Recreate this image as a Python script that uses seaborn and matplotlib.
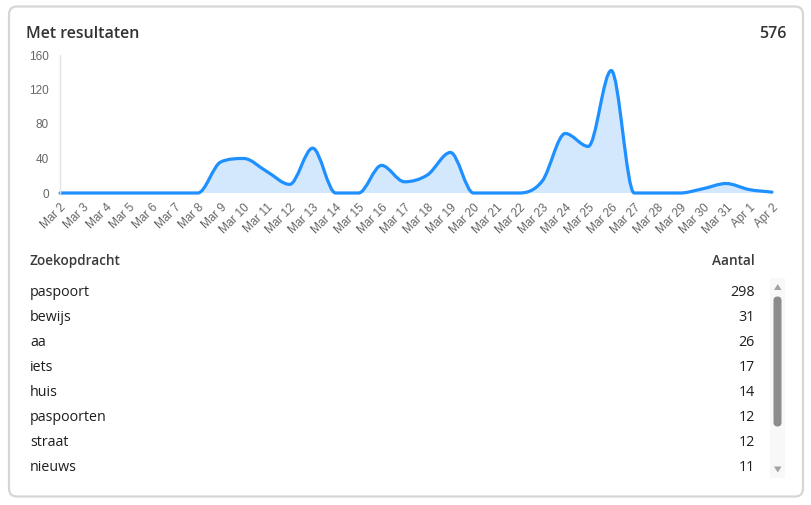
import numpy as np
import matplotlib
matplotlib.use("Agg")
import matplotlib.pyplot as plt
from matplotlib.path import Path
from matplotlib.patches import PathPatch, FancyBboxPatch, Polygon, Rectangle
import seaborn as sns

# ---------------- data ----------------
dates = ["Mar 2", "Mar 3", "Mar 4", "Mar 5", "Mar 6", "Mar 7", "Mar 8", "Mar 9",
         "Mar 10", "Mar 11", "Mar 12", "Mar 13", "Mar 14", "Mar 15", "Mar 16",
         "Mar 17", "Mar 18", "Mar 19", "Mar 20", "Mar 21", "Mar 22", "Mar 23",
         "Mar 24", "Mar 25", "Mar 26", "Mar 27", "Mar 28", "Mar 29", "Mar 30",
         "Mar 31", "Apr 1", "Apr 2"]
counts = [0, 0, 0, 0, 0, 0, 0, 36,
          40, 25, 10, 52, 0, 0, 32,
          13, 21, 47, 0, 0, 0, 14,
          69, 54, 142, 0, 0, 0, 5,
          11, 4, 1]
y_ticks = [0, 40, 80, 120, 160]
title = "Met resultaten"
total_label = "576"
col_term = "Zoekopdracht"
col_count = "Aantal"
terms = ["paspoort", "bewijs", "aa", "iets", "huis", "paspoorten", "straat", "nieuws"]
term_counts = [298, 31, 26, 17, 14, 12, 12, 11]

# ---------------- style ----------------
sns.set_theme(style="white")
plt.rcParams["font.family"] = ["Open Sans", "DejaVu Sans"]

LINE = "#1e90ff"
FILL = "#d3e7fd"


def monotone_path(x, y):
    """Monotone cubic (Fritsch-Carlson) Bezier path through the data points."""
    x = np.asarray(x, float)
    y = np.asarray(y, float)
    n = len(x)
    dx = np.diff(x)
    d = np.diff(y) / dx
    m = np.zeros(n)
    m[0] = d[0]
    m[-1] = d[-1]
    for k in range(1, n - 1):
        if np.sign(d[k - 1]) != np.sign(d[k]):
            m[k] = 0.0
        else:
            m[k] = (d[k - 1] + d[k]) / 2
    for k in range(n - 1):
        if abs(d[k]) < 1e-9:
            m[k] = m[k + 1] = 0.0
            continue
        a = m[k] / d[k]
        b = m[k + 1] / d[k]
        s = a * a + b * b
        if s > 9:
            t = 3 / np.sqrt(s)
            m[k] = a * t * d[k]
            m[k + 1] = b * t * d[k]
    verts = [(x[0], y[0])]
    codes = [Path.MOVETO]
    for k in range(n - 1):
        h = dx[k] / 3
        verts += [(x[k] + h, y[k] + m[k] * h),
                  (x[k + 1] - h, y[k + 1] - m[k + 1] * h),
                  (x[k + 1], y[k + 1])]
        codes += [Path.CURVE4] * 3
    return verts, codes


W, H = 812, 505
fig = plt.figure(figsize=(W / 100, H / 100), dpi=100)
fig.patch.set_facecolor("white")

# background / card layer in pixel coordinates
bg = fig.add_axes([0, 0, 1, 1], zorder=0)
bg.set_xlim(0, W)
bg.set_ylim(H, 0)
bg.axis("off")
bg.add_patch(FancyBboxPatch((9, 6.5), 794, 490, boxstyle="round,pad=0,rounding_size=8",
                            fc="white", ec="#d6d6d6", lw=1.6))

bg.text(26, 34.5, title, fontsize=11.5, fontweight="semibold", color="#333333", va="center")
bg.text(787, 34.5, total_label, fontsize=11.5, fontweight="semibold", color="#333333",
        va="center", ha="right")

# table
bg.text(30, 261, col_term, fontsize=9.8, fontweight="semibold", color="#3a3a3a", va="center")
bg.text(755, 261, col_count, fontsize=9.8, fontweight="semibold", color="#3a3a3a",
        va="center", ha="right")
for i, (t, c) in enumerate(zip(terms, term_counts)):
    yy = 292.5 + 25 * i
    bg.text(30, yy, t, fontsize=10.3, color="#1e1e1e", va="center")
    bg.text(755, yy, str(c), fontsize=10.3, color="#1e1e1e", va="center", ha="right")

# scrollbar
bg.add_patch(Rectangle((770, 278), 15, 200, fc="#f8f8f8", ec="none"))
bg.add_patch(FancyBboxPatch((773.5, 296.5), 8, 130, boxstyle="round,pad=0,rounding_size=4",
                            fc="#8c8c8c", ec="none"))
bg.add_patch(Polygon([(774, 290), (781.5, 290), (777.75, 284)], closed=True, fc="#a3a3a3", ec="none"))
bg.add_patch(Polygon([(774, 466.5), (781.5, 466.5), (777.75, 472.5)], closed=True, fc="#a3a3a3", ec="none"))

# chart
left, right, top, bottom = 60, 772, 55, 193
ax = fig.add_axes([left / W, 1 - bottom / H, (right - left) / W, (bottom - top) / H], zorder=2)
ax.set_facecolor("none")
xs = np.arange(len(dates))
ax.set_xlim(xs[0], xs[-1])
ax.set_ylim(y_ticks[0], y_ticks[-1])

verts, codes = monotone_path(xs, counts)
fill_verts = verts + [(xs[-1], 0), (xs[0], 0), (xs[0], 0)]
fill_codes = codes + [Path.LINETO, Path.LINETO, Path.CLOSEPOLY]
ax.add_patch(PathPatch(Path(fill_verts, fill_codes), fc=FILL, ec="none", lw=0))
ax.add_patch(PathPatch(Path(verts, codes), fill=False, ec=LINE, lw=2.3,
                       capstyle="round", joinstyle="round", clip_on=False))

ax.set_yticks(y_ticks)
ax.set_yticklabels([str(v) for v in y_ticks], family=["Liberation Sans", "DejaVu Sans"],
                   fontsize=8.5, color="#666666")
ax.set_xticks(xs)
ax.set_xticklabels(dates, rotation=45, ha="right", va="top", rotation_mode="anchor",
                   family=["Liberation Sans", "DejaVu Sans"], fontsize=8.5, color="#666666")
ax.tick_params(axis="y", length=0, pad=8)
ax.tick_params(axis="x", length=0, pad=6)
sns.despine(ax=ax, top=True, right=True, bottom=True)
ax.spines["left"].set_color("#e3e3e3")
ax.spines["left"].set_linewidth(1)
ax.grid(False)

fig.savefig("out.png", dpi=100, facecolor="white")
